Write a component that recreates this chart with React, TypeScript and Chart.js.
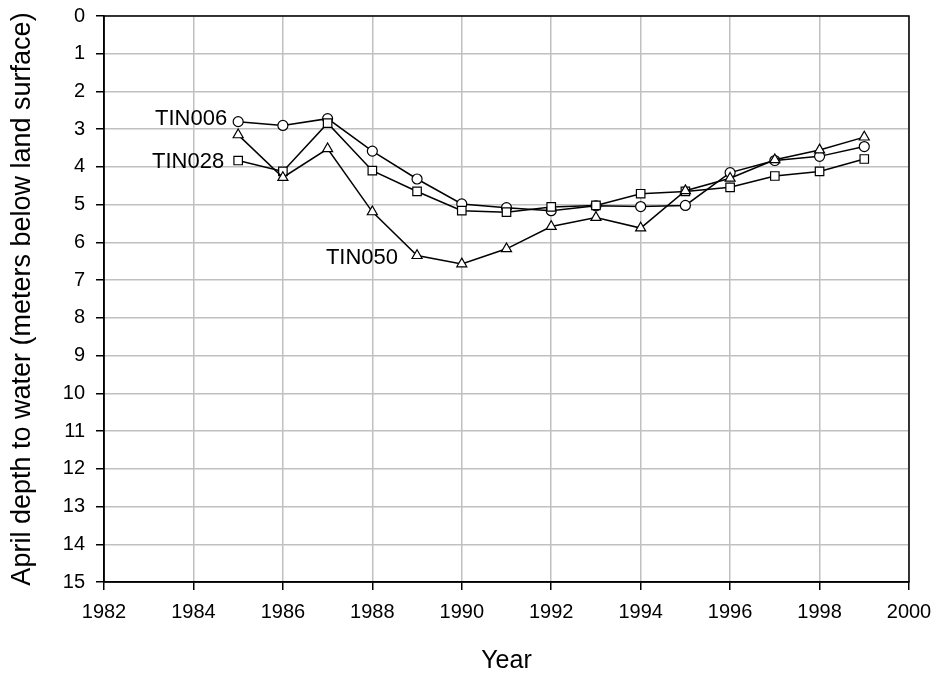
import React, { useEffect, useRef } from "react";
import { Chart, registerables } from "chart.js";

Chart.register(...registerables);

const years = [1985, 1986, 1987, 1988, 1989, 1990, 1991, 1992, 1993, 1994, 1995, 1996, 1997, 1998, 1999];
const tin006 = [2.8, 2.9, 2.72, 3.58, 4.32, 4.98, 5.08, 5.16, 5.03, 5.05, 5.02, 4.15, 3.83, 3.72, 3.46];
const tin028 = [3.83, 4.12, 2.84, 4.1, 4.65, 5.16, 5.2, 5.06, 5.02, 4.71, 4.65, 4.54, 4.24, 4.12, 3.79];
const tin050 = [3.15, 4.28, 3.52, 5.19, 6.35, 6.57, 6.17, 5.58, 5.34, 5.62, 4.63, 4.3, 3.81, 3.55, 3.21];
const seriesNames = ["TIN006", "TIN028", "TIN050"];
const labelAnchorIndex = [0, 0, 4];
const xTitle = "Year";
const yTitle = "April depth to water (meters below land surface)";

const FONT = '"Liberation Sans", Arial, Helvetica, sans-serif';

const labelOffsets = [
  { dx: -11, dy: -3 },
  { dx: -14, dy: 1 },
  { dx: -19, dy: 2 },
];

const seriesLabelPlugin = {
  id: "seriesLabels",
  afterDatasetsDraw(chart: any) {
    const { ctx, chartArea, scales } = chart;
    ctx.save();
    ctx.strokeStyle = "#000";
    ctx.lineWidth = 1.5;
    ctx.strokeRect(chartArea.left, chartArea.top, chartArea.right - chartArea.left, chartArea.bottom - chartArea.top);
    ctx.font = `22px ${FONT}`;
    ctx.fillStyle = "#000";
    ctx.textAlign = "right";
    ctx.textBaseline = "middle";
    const all = [tin006, tin028, tin050];
    seriesNames.forEach((name, i) => {
      const idx = labelAnchorIndex[i];
      const x = scales.x.getPixelForValue(years[idx]) + labelOffsets[i].dx;
      const y = scales.y.getPixelForValue(all[i][idx]) + labelOffsets[i].dy;
      ctx.fillText(name, x, y);
    });
    ctx.restore();
  },
};

export default function App() {
  const ref = useRef<HTMLCanvasElement | null>(null);

  useEffect(() => {
    if (!ref.current) return;
    Chart.defaults.font.family = FONT;
    const toPts = (arr: number[]) => years.map((yr, i) => ({ x: yr, y: arr[i] }));
    const common = {
      borderColor: "#000",
      borderWidth: 1.5,
      pointBackgroundColor: "#fff",
      pointBorderColor: "#000",
      pointBorderWidth: 1.2,
      tension: 0,
      fill: false,
    };
    const chart = new Chart(ref.current, {
      type: "line",
      data: {
        datasets: [
          { ...common, label: seriesNames[2], data: toPts(tin050), pointStyle: "triangle", pointRadius: 5.8 },
          { ...common, label: seriesNames[1], data: toPts(tin028), pointStyle: "rect", pointRadius: 6 },
          { ...common, label: seriesNames[0], data: toPts(tin006), pointStyle: "circle", pointRadius: 5 },
        ],
      },
      options: {
        animation: false,
        responsive: false,
        maintainAspectRatio: false,
        layout: { padding: { top: 16, right: 31, left: 0, bottom: 0 } },
        plugins: { legend: { display: false }, tooltip: { enabled: false } },
        scales: {
          x: {
            type: "linear",
            min: 1982,
            max: 2000,
            afterFit(scale: any) {
              scale.height = 95;
              scale.paddingLeft = 0;
              scale.paddingRight = 0;
            },
            ticks: {
              stepSize: 2,
              padding: 10,
              color: "#000",
              font: { size: 20 },
              callback: (v: any) => String(v),
              maxRotation: 0,
            },
            grid: { color: "#c0c0c0", lineWidth: 1.5, tickColor: "#000", tickLength: 8, tickWidth: 1.5 },
            border: { color: "#000", width: 1.5 },
            title: { display: true, text: xTitle, color: "#000", font: { size: 25 }, padding: { top: 0, bottom: 1 } },
          },
          y: {
            type: "linear",
            reverse: true,
            min: 0,
            max: 15,
            afterFit(scale: any) {
              scale.width = 104;
              scale.paddingTop = 0;
              scale.paddingBottom = 0;
            },
            ticks: { stepSize: 1, padding: 11, color: "#000", font: { size: 20 } },
            grid: { color: "#c0c0c0", lineWidth: 1.5, tickColor: "#000", tickLength: 8, tickWidth: 1.5 },
            border: { color: "#000", width: 1.5 },
            title: { display: true, text: yTitle, color: "#000", font: { size: 27 }, padding: { top: 6, bottom: 0 } },
          },
        },
      },
      plugins: [seriesLabelPlugin],
    } as any);
    return () => chart.destroy();
  }, []);

  return (
    <div style={{ position: "absolute", left: 0, top: 0, width: 940, height: 677, background: "#fff" }}>
      <canvas ref={ref} width={940} height={677} style={{ width: 940, height: 677, display: "block" }} />
    </div>
  );
}
